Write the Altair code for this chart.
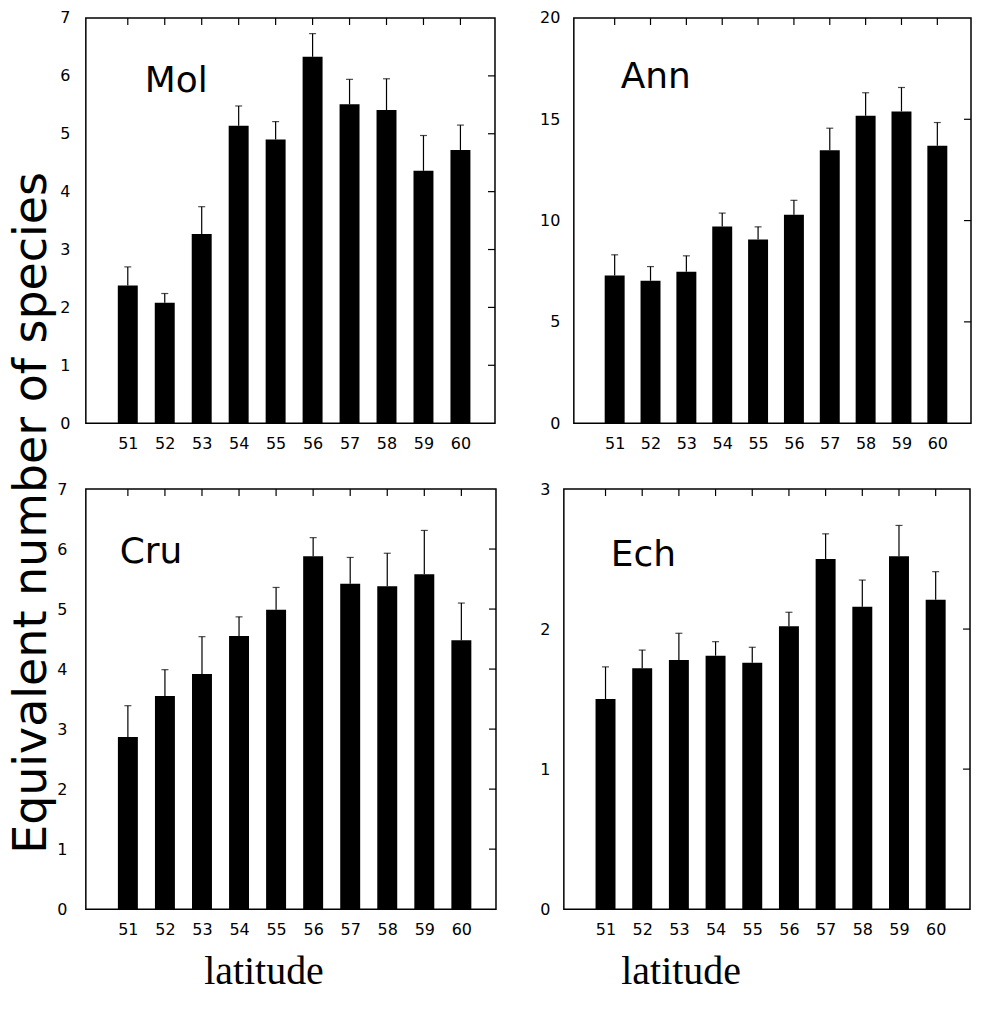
import altair as alt
import pandas as pd

lat = [51, 52, 53, 54, 55, 56, 57, 58, 59, 60]

mol_mean = [2.38, 2.08, 3.27, 5.14, 4.90, 6.33, 5.51, 5.41, 4.36, 4.72]
mol_top = [2.70, 2.24, 3.74, 5.48, 5.21, 6.73, 5.94, 5.95, 4.97, 5.15]

ann_mean = [7.29, 7.03, 7.47, 9.71, 9.06, 10.29, 13.47, 15.18, 15.39, 13.70]
ann_top = [8.31, 7.73, 8.26, 10.37, 9.69, 11.00, 14.56, 16.31, 16.57, 14.84]

cru_mean = [2.87, 3.55, 3.92, 4.55, 4.99, 5.88, 5.42, 5.38, 5.58, 4.48]
cru_top = [3.39, 3.99, 4.54, 4.87, 5.36, 6.19, 5.86, 5.93, 6.31, 5.10]

ech_mean = [1.50, 1.72, 1.78, 1.81, 1.76, 2.02, 2.50, 2.16, 2.52, 2.21]
ech_top = [1.73, 1.85, 1.97, 1.91, 1.87, 2.12, 2.68, 2.35, 2.74, 2.41]

mol_ticks = [0, 1, 2, 3, 4, 5, 6, 7]
ann_ticks = [0, 5, 10, 15, 20]
cru_ticks = [0, 1, 2, 3, 4, 5, 6, 7]
ech_ticks = [0, 1, 2, 3]

x_title = "latitude"
y_title = "Equivalent number of species"

SANS = "DejaVu Sans"
SERIF = "Liberation Serif"


def panel(name, means, tops, ticks, width, height, y_pad, lx, ly,
          bottom=False, title_x=0):
    ymax = ticks[-1]
    df = pd.DataFrame({"lat": lat, "value": means, "top": tops})
    tdf = pd.DataFrame({"tick": [t for t in ticks if 0 < t < ymax]})
    ndf = pd.DataFrame({"name": [name]})

    xaxis_kw = dict(values=lat, ticks=False, domain=False, grid=False,
                    labelPadding=12, labelFontSize=16, labelFont=SANS,
                    labelColor="black", format="d")
    if bottom:
        xaxis_kw.update(title=x_title, titleFont=SERIF, titleFontSize=40,
                        titleFontWeight="normal", titleColor="black",
                        titleX=title_x, titleY=75, titleBaseline="alphabetic",
                        titleAlign="center")
    else:
        xaxis_kw.update(title=None)

    yaxis_kw = dict(values=ticks, ticks=False, domain=False, grid=False,
                    labelPadding=y_pad, labelFontSize=16, labelFont=SANS,
                    labelColor="black", format="d", title=None)

    xs = alt.Scale(domain=[50, 60.8], nice=False, zero=False)
    ys = alt.Scale(domain=[0, ymax], nice=False)

    x = alt.X("lat:Q", scale=xs, axis=alt.Axis(**xaxis_kw))
    y = alt.Y("value:Q", scale=ys, axis=alt.Axis(**yaxis_kw))

    base = alt.Chart(df)
    bars = base.mark_bar(color="black", size=20, orient="vertical").encode(x=x, y=y)
    err = base.mark_rule(color="black", strokeWidth=1.2).encode(
        x="lat:Q", y="value:Q", y2="top:Q")
    caps = base.mark_tick(color="black", orient="horizontal", size=7,
                          thickness=1.2).encode(x="lat:Q", y="top:Q")
    top_ticks = base.mark_rule(color="black", strokeWidth=1.2).encode(
        x="lat:Q", y=alt.value(0), y2=alt.value(7))
    right_ticks = alt.Chart(tdf).mark_rule(color="black", strokeWidth=1.2).encode(
        y="tick:Q", x=alt.value(width), x2=alt.value(width - 7))
    label = alt.Chart(ndf).mark_text(font=SANS, fontSize=36, color="black",
                                     align="left", baseline="alphabetic").encode(
        text="name:N", x=alt.value(lx), y=alt.value(ly))

    return alt.layer(bars, err, caps, top_ticks, right_ticks, label).properties(
        width=width, height=height)


p1 = panel("Mol", mol_mean, mol_top, mol_ticks, 410, 406, 16, 59, 74)
p2 = panel("Ann", ann_mean, ann_top, ann_ticks, 398, 406, 14, 47, 70)
p3 = panel("Cru", cru_mean, cru_top, cru_ticks, 411, 421, 19, 34, 74,
           bottom=True, title_x=178)
p4 = panel("Ech", ech_mean, ech_top, ech_ticks, 407, 421, 14, 47, 77,
           bottom=True, title_x=117)

row1 = alt.hconcat(p1, p2, spacing=41)
row2 = alt.hconcat(p3, p4, spacing=41)
grid = alt.vconcat(row1, row2, spacing=28)

title_df = pd.DataFrame({"t": [y_title]})
title_chart = alt.Chart(title_df).mark_text(
    angle=270, font=SANS, fontSize=46, color="black",
    align="center", baseline="middle").encode(
    text="t:N", x=alt.value(20), y=alt.value(496)).properties(
    width=40, height=900, view=alt.ViewBackground(strokeOpacity=0))

chart = alt.hconcat(title_chart, grid, spacing=0).properties(
    padding={"left": 0, "top": 0, "right": 0, "bottom": 0},
).configure_view(stroke="black", strokeWidth=1.5)

chart.save("out.html", embed_options={"renderer": "svg", "actions": False})
